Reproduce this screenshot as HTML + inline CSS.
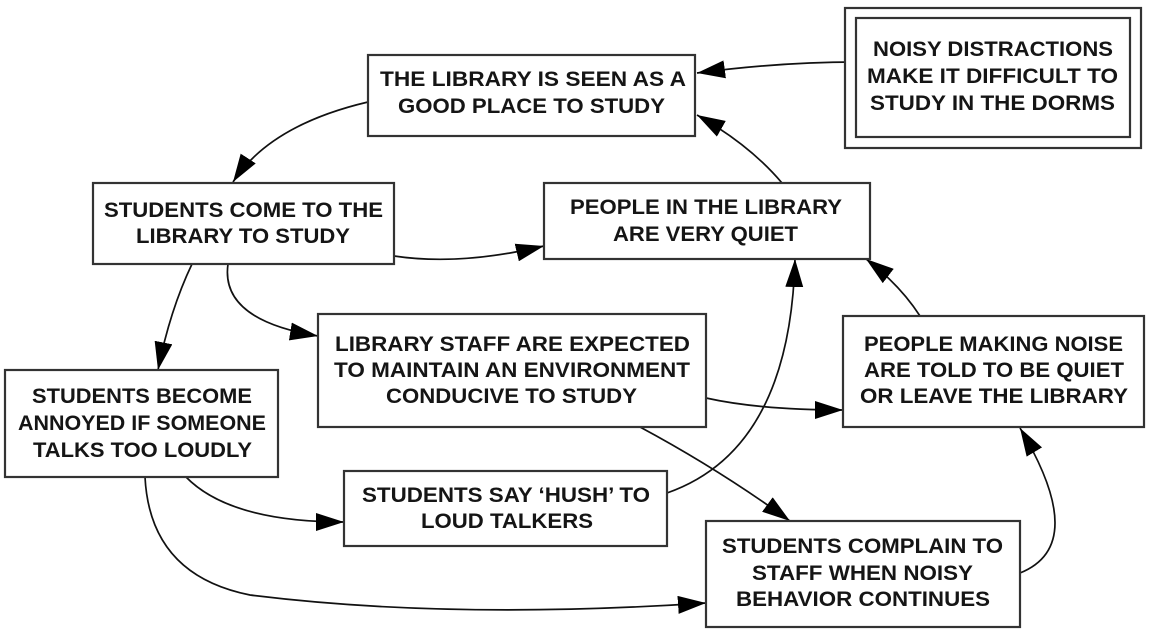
<!DOCTYPE html>
<html><head><meta charset="utf-8"><style>
html,body{margin:0;padding:0;background:#fff}
svg{display:block}
text{font-family:"Liberation Sans",Arial,sans-serif;font-weight:bold;font-size:21px;fill:#151515}
rect{fill:#fff;stroke:#333;stroke-width:2.2}
path{fill:none;stroke:#111;stroke-width:1.7}
</style></head><body>
<svg width="1156" height="641" viewBox="0 0 1156 641" xmlns="http://www.w3.org/2000/svg">
<defs>
<marker id="a" viewBox="0 0 28 18" refX="28" refY="9" markerWidth="28" markerHeight="18" markerUnits="userSpaceOnUse" orient="auto">
<path d="M0,0 L28,9 L0,18 z" style="fill:#000;stroke:none"/>
</marker>
</defs>
<!-- connectors -->
<path d="M856,62 Q780,62 697,73" marker-end="url(#a)"/>
<path d="M368,102 Q270,125 233,182" marker-end="url(#a)"/>
<path d="M394,256 Q460,266 544,246" marker-end="url(#a)"/>
<path d="M782,183 Q750,145 697,115" marker-end="url(#a)"/>
<path d="M920,316 Q900,285 866,259" marker-end="url(#a)"/>
<path d="M192,264 Q170,310 158,370" marker-end="url(#a)"/>
<path d="M228,264 Q220,320 318,336" marker-end="url(#a)"/>
<path d="M706,398 Q760,410 843,410" marker-end="url(#a)"/>
<path d="M640,427 Q720,470 790,521" marker-end="url(#a)"/>
<path d="M667,493 Q790,450 795,259" marker-end="url(#a)"/>
<path d="M186,477 Q230,522 344,522" marker-end="url(#a)"/>
<path d="M145,477 Q150,575 250,595 Q450,620 706,603" marker-end="url(#a)"/>
<path d="M1020,573 Q1090,545 1020,428" marker-end="url(#a)"/>
<!-- boxes -->
<rect x="368" y="55" width="327" height="81"/>
<rect x="845" y="8" width="296" height="140"/>
<rect x="856" y="18" width="274" height="119"/>
<rect x="93" y="183" width="301" height="81"/>
<rect x="544" y="183" width="326" height="76"/>
<rect x="318" y="314" width="388" height="113"/>
<rect x="843" y="316" width="301" height="111"/>
<rect x="5" y="370" width="273" height="107"/>
<rect x="344" y="471" width="323" height="75"/>
<rect x="706" y="521" width="314" height="106"/>
<!-- text -->
<text x="380" y="86" textLength="306" lengthAdjust="spacingAndGlyphs">THE LIBRARY IS SEEN AS A</text>
<text x="398" y="113" textLength="267" lengthAdjust="spacingAndGlyphs">GOOD PLACE TO STUDY</text>
<text x="873" y="56" textLength="240" lengthAdjust="spacingAndGlyphs">NOISY DISTRACTIONS</text>
<text x="867" y="83" textLength="251" lengthAdjust="spacingAndGlyphs">MAKE IT DIFFICULT TO</text>
<text x="870" y="110" textLength="245" lengthAdjust="spacingAndGlyphs">STUDY IN THE DORMS</text>
<text x="104" y="217" textLength="279" lengthAdjust="spacingAndGlyphs">STUDENTS COME TO THE</text>
<text x="136" y="243" textLength="214" lengthAdjust="spacingAndGlyphs">LIBRARY TO STUDY</text>
<text x="570" y="214" textLength="272" lengthAdjust="spacingAndGlyphs">PEOPLE IN THE LIBRARY</text>
<text x="613" y="241" textLength="185" lengthAdjust="spacingAndGlyphs">ARE VERY QUIET</text>
<text x="335" y="351" textLength="355" lengthAdjust="spacingAndGlyphs">LIBRARY STAFF ARE EXPECTED</text>
<text x="334" y="377" textLength="356" lengthAdjust="spacingAndGlyphs">TO MAINTAIN AN ENVIRONMENT</text>
<text x="386" y="403" textLength="251" lengthAdjust="spacingAndGlyphs">CONDUCIVE TO STUDY</text>
<text x="864" y="351" textLength="259" lengthAdjust="spacingAndGlyphs">PEOPLE MAKING NOISE</text>
<text x="864" y="377" textLength="260" lengthAdjust="spacingAndGlyphs">ARE TOLD TO BE QUIET</text>
<text x="860" y="403" textLength="268" lengthAdjust="spacingAndGlyphs">OR LEAVE THE LIBRARY</text>
<text x="32" y="403" textLength="220" lengthAdjust="spacingAndGlyphs">STUDENTS BECOME</text>
<text x="18" y="430" textLength="248" lengthAdjust="spacingAndGlyphs">ANNOYED IF SOMEONE</text>
<text x="33" y="457" textLength="219" lengthAdjust="spacingAndGlyphs">TALKS TOO LOUDLY</text>
<text x="362" y="502" textLength="288" lengthAdjust="spacingAndGlyphs">STUDENTS SAY ‘HUSH’ TO</text>
<text x="421" y="528" textLength="172" lengthAdjust="spacingAndGlyphs">LOUD TALKERS</text>
<text x="722" y="553" textLength="281" lengthAdjust="spacingAndGlyphs">STUDENTS COMPLAIN TO</text>
<text x="752" y="580" textLength="221" lengthAdjust="spacingAndGlyphs">STAFF WHEN NOISY</text>
<text x="736" y="606" textLength="254" lengthAdjust="spacingAndGlyphs">BEHAVIOR CONTINUES</text>
</svg>
</body></html>
